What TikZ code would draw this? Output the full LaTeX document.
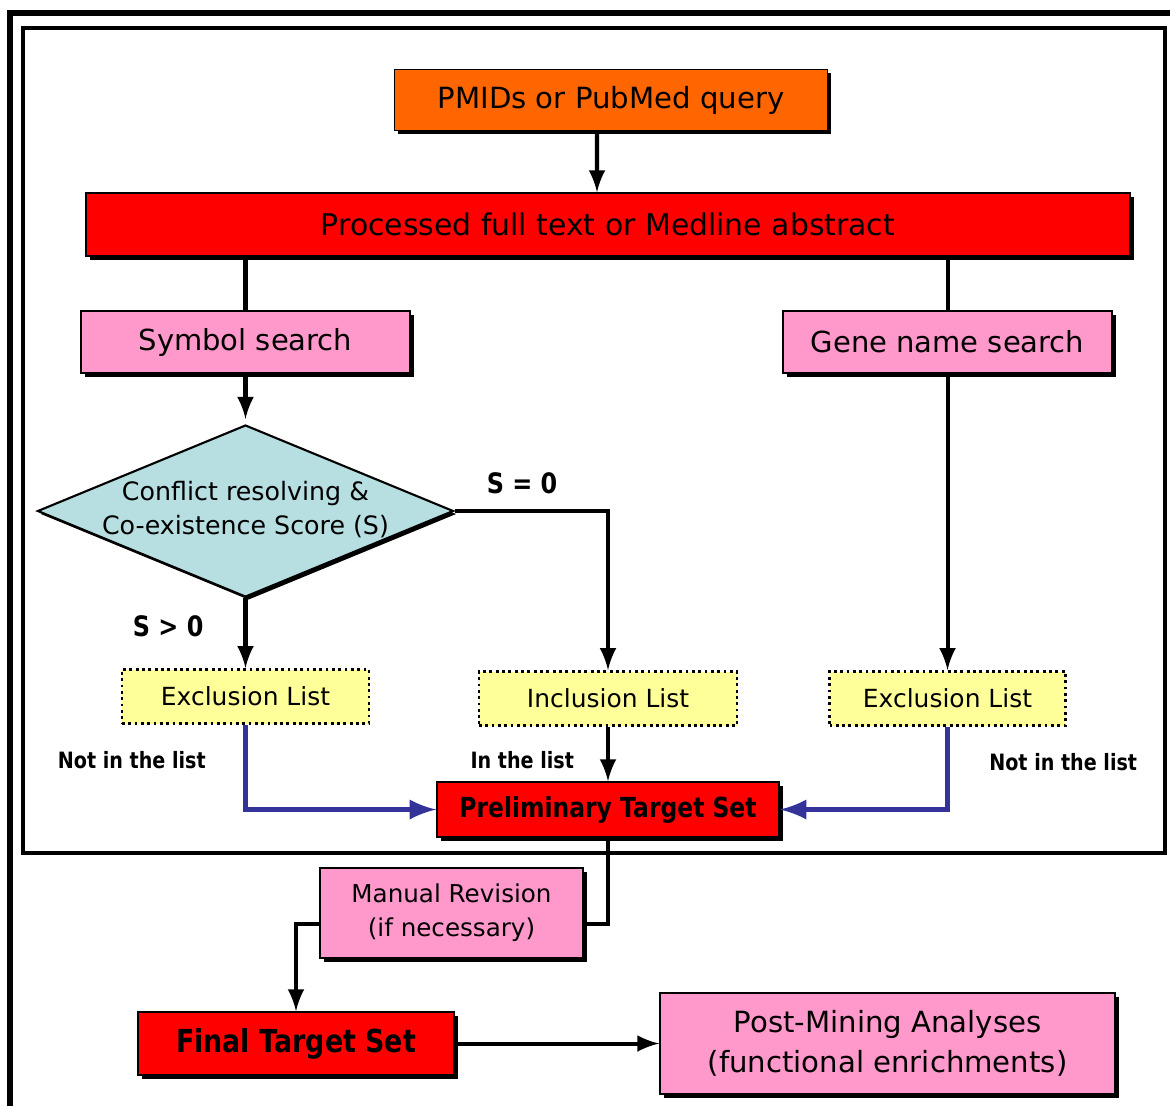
\documentclass[tikz,border=0pt]{standalone}
\usepackage{fontspec}
\setmainfont{DejaVu Sans}
\newfontfamily\condfont[FakeStretch=0.85]{DejaVu Sans}
\usetikzlibrary{shapes}
\usetikzlibrary{shapes.geometric}
\usetikzlibrary{shadows}
\usetikzlibrary {positioning}

\definecolor{queryorange}{HTML}{FF6600}
\definecolor{procred}{HTML}{FF0000}
\definecolor{searchpink}{HTML}{FF99CC}
\definecolor{listyellow}{HTML}{FFFF99}
\definecolor{decisionblue}{HTML}{B7DEE0}
\definecolor{linkblue}{HTML}{333399}

\begin{document}
\begin{tikzpicture}[auto ,node distance =1.5cm and 2cm ,on grid ,
    link/.style ={line width=1.15pt, black},
    arr/.style ={link, -latex},
    bluearr/.style ={line width=1.6pt, linkblue, -latex},
    box/.style ={ rectangle ,draw=black ,line width=0.4pt ,inner sep=0pt ,align=center ,
    drop shadow={shadow xshift=0.35mm, shadow yshift=-0.35mm, opacity=1, fill=black}},
    query/.style ={box ,fill=queryorange ,minimum width=4.33cm ,minimum height=0.61cm ,
    font=\fontsize{8.3}{10}\selectfont},
    proc/.style ={box ,fill=procred ,minimum width=10.44cm ,minimum height=0.63cm ,
    font=\fontsize{8.5}{10}\selectfont},
    search/.style ={box ,fill=searchpink ,minimum width=3.29cm ,minimum height=0.62cm ,
    font=\fontsize{8.25}{10}\selectfont},
    decision/.style ={diamond ,draw=black ,line width=0.6pt ,fill=decisionblue ,inner sep=0pt ,
    aspect=2.42 ,minimum width=4.16cm ,minimum height=1.72cm ,
    drop shadow={shadow xshift=0.3mm, shadow yshift=-0.3mm, opacity=1, fill=black},
    font=\fontsize{7.2}{9.7}\selectfont},
    list/.style ={rectangle ,draw=black ,densely dotted ,line width=0.8pt ,fill=listyellow ,
    inner sep=0pt ,minimum height=0.54cm ,font=\fontsize{7.1}{9}\selectfont},
    target/.style ={box ,fill=procred ,minimum width=3.42cm ,minimum height=0.55cm ,
    font=\condfont\bfseries\fontsize{7.85}{9}\selectfont},
    lbl/.style ={inner sep=0pt ,text=black ,font=\condfont\bfseries\fontsize{6.4}{8}\selectfont},
    cond/.style ={inner sep=0pt ,text=black ,font=\condfont\bfseries\fontsize{8}{9}\selectfont}]
    \useasboundingbox (0,0) rectangle (11.7,-11.05);
    \clip (0,0) rectangle (11.7,-11.05);
    % frames
    \draw[line width=1.7pt] (0.10,-0.13) rectangle (13,-13);
    \draw[line width=1.15pt] (0.23,-0.28) rectangle (11.65,-8.53);

    \node[query] (pmid) at (6.11,-1.00) {PMIDs or PubMed query};
    \node[proc] (proc) [below left =1.245cm and 0.03cm of pmid] {Processed full text or Medline abstract};
    \node[search] (sym) [below left =1.175cm and 3.625cm of proc] {Symbol search};
    \node[search] (gene) [below right =1.175cm and 3.395cm of proc] {Gene name search};
    \node[decision] (conf) [below =1.69cm of sym] {\makebox[0pt]{\begin{tabular}{@{}c@{}}Conflict resolving \&\\Co-existence Score (S)\end{tabular}}};
    \node[list ,minimum width=2.47cm] (excl1) [below =1.855cm of conf] {Exclusion List};
    \node[list ,minimum width=2.58cm] (incl) [below =4.74cm of proc] {Inclusion List};
    \node[list ,minimum width=2.36cm] (excl2) [below =3.565cm of gene] {Exclusion List};
    \node[target] (prelim) [below =1.11cm of incl] {Preliminary Target Set};
    \node[search ,minimum width=2.63cm ,minimum height=0.90cm ,font=\fontsize{7}{9.7}\selectfont]
      (manual) [below left =1.035cm and 1.565cm of prelim] {Manual Revision\\(if necessary)};
    \node[target ,minimum width=3.16cm ,minimum height=0.63cm ,font=\condfont\bfseries\fontsize{9}{10}\selectfont]
      (final) [below left =1.305cm and 1.555cm of manual] {Final Target Set};
    \node[search ,minimum width=4.55cm ,minimum height=1.01cm ,font=\fontsize{8.3}{11.4}\selectfont]
      (post) [right =5.915cm of final] {Post-Mining Analyses\\(functional enrichments)};

    % connectors
    \draw[arr] ([xshift=-1.4mm]pmid.south) -- ([xshift=-1.1mm]proc.north);
    \draw[link] (proc.south -| sym.north) -- (sym.north);
    \draw[link] (proc.south -| gene.north) -- (gene.north);
    \draw[arr ,shorten >=0.5mm] (sym.south) -- (conf.north);
    \draw[arr] (conf.east) -| node[cond ,pos=0.22 ,above=1.5mm] {S = 0} (incl.north);
    \draw[arr] (conf.south) -- node[cond ,pos=0.4 ,left=4mm] {S > 0} (excl1.north);
    \draw[arr] (gene.south) -- (excl2.north);
    \draw[bluearr] (excl1.south) |- node[lbl ,pos=0.21 ,left=3.7mm] {Not in the list} (prelim.west);
    \draw[arr] (incl.south) -- node[lbl ,pos=0.61 ,left=3.2mm] {In the list} (prelim.north);
    \draw[bluearr] (excl2.south) |- node[lbl ,pos=0.21 ,right=3.9mm] {Not in the list} (prelim.east);
    \draw[link] (prelim.south) |- ([yshift=-1.1mm]manual.east);
    \draw[arr] ([yshift=-1.1mm]manual.west) -| (final.north);
    \draw[arr] (final.east) -- (post.west);
\end{tikzpicture}
\end{document}
